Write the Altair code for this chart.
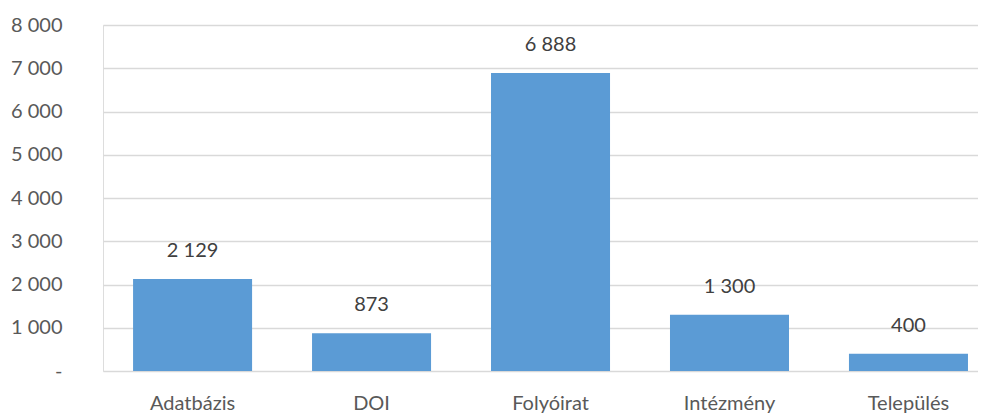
import altair as alt
import pandas as pd

categories = ["Adatbázis", "DOI", "Folyóirat", "Intézmény", "Település"]
values = [2129, 873, 6888, 1300, 400]
y_ticks = [0, 1000, 2000, 3000, 4000, 5000, 6000, 7000, 8000]

df = pd.DataFrame({"cat": categories, "value": values})

FONT = "Lato"

x = alt.X(
    "cat:N",
    sort=categories,
    title=None,
    scale=alt.Scale(paddingInner=0.335, paddingOuter=0.112, align=0.75),
    axis=alt.Axis(
        labelAngle=0,
        labelFont=FONT,
        labelFontSize=20,
        labelColor="#595959",
        labelPadding=22,
        ticks=False,
        domain=False,
        grid=False,
    ),
)

y = alt.Y(
    "value:Q",
    title=None,
    scale=alt.Scale(domain=[0, 8000], nice=False),
    axis=alt.Axis(
        values=y_ticks,
        labelExpr="datum.value == 0 ? '-\u00a0\u00a0\u00a0' : replace(format(datum.value, ','), ',', ' ')",
        labelFont=FONT,
        labelFontSize=20,
        labelColor="#595959",
        labelPadding=41,
        ticks=False,
        domain=False,
        grid=True,
        gridColor="#d9d9d9",
        gridWidth=1.4,
    ),
)

bars = alt.Chart(df).mark_bar(color="#5B9BD5").encode(x=x, y=y)

labels = (
    alt.Chart(df)
    .transform_calculate(lbl="replace(format(datum.value, ','), ',', ' ')")
    .mark_text(dy=-22, baseline="alphabetic", font=FONT, fontSize=20, color="#404040")
    .encode(x=alt.X("cat:N", sort=categories), y="value:Q", text="lbl:N")
)

chart = (
    alt.layer(bars, labels)
    .properties(
        width=875,
        height=346,
        autosize=alt.AutoSizeParams(type="none"),
        padding={"left": 95, "top": 17, "right": 0, "bottom": 48},
    )
    .configure_view(stroke=None)
    .configure(background="white")
)

chart.save("out.html", embed_options={"renderer": "svg", "actions": False})
